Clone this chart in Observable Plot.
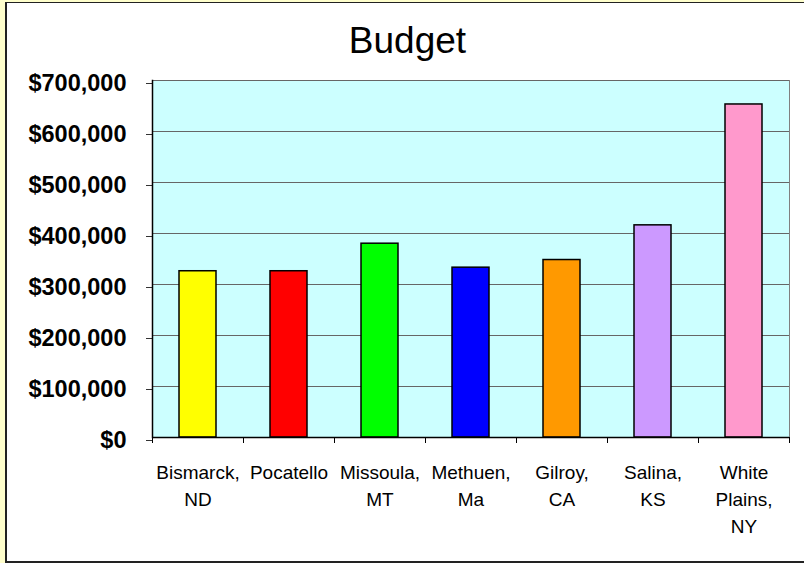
<!DOCTYPE html>
<html>
<head>
<meta charset="utf-8">
<script src="https://cdn.jsdelivr.net/npm/d3@7"></script>
<script src="https://cdn.jsdelivr.net/npm/@observablehq/plot@0.6"></script>
<style>
  html, body { margin: 0; padding: 0; background: #FFFFCC; }
  #wrap { position: relative; width: 804px; height: 563px; overflow: hidden; font-family: "Liberation Sans", Arial, sans-serif; }
  #box { position: absolute; left: 5px; top: 2px; width: 799px; height: 561px; box-sizing: border-box;
         background: #ffffff; border-left: 2px solid #222; border-top: 1px solid #222; border-bottom: 2px solid #222; }
  #title { position: absolute; left: 0; top: 21.7px; width: 815px; text-align: center; font-size: 37px; line-height: 37px; color: #000; }
  #chart { position: absolute; left: 0; top: 60px; }
</style>
</head>
<body>
<div id="wrap">
  <div id="box"></div>
  <div id="title">Budget</div>
  <div id="chart"></div>
</div>
<script>
const cities = ["Bismarck,\nND", "Pocatello", "Missoula,\nMT", "Methuen,\nMa", "Gilroy,\nCA", "Salina,\nKS", "White\nPlains,\nNY"];
const budgets = [326000, 326000, 380000, 333000, 348000, 416000, 653000];
const barColors = ["#FFFF00", "#FF0000", "#00FF00", "#0000FF", "#FF9900", "#CC99FF", "#FF99CC"];
const yTicks = [0, 100000, 200000, 300000, 400000, 500000, 600000, 700000];

const data = cities.map((c, i) => ({city: c, budget: budgets[i]}));

const W = 804, H = 503, ML = 152, MR = 15, MT = 20, MB = 126;
const step = (W - ML - MR) / cities.length;
const fontFam = '"Liberation Sans", Arial, sans-serif';

const chart = Plot.plot({
  width: W, height: H,
  marginLeft: ML, marginRight: MR, marginTop: MT, marginBottom: MB,
  style: {background: "transparent", fontFamily: fontFam, color: "#000"},
  x: {domain: cities, paddingInner: 0.59, paddingOuter: 0.295, label: null},
  y: {domain: [0, 700000], label: null},
  color: {domain: cities, range: barColors},
  marks: [
    Plot.frame({fill: "#CCFFFF", stroke: "#808080"}),
    Plot.ruleY(yTicks, {stroke: "#666666", strokeWidth: 1}),
    Plot.barY(data, {x: "city", y: "budget", fill: "city", stroke: "#000", strokeWidth: 1.5}),
    Plot.axisY({ticks: yTicks, tickSize: 6, tickPadding: 20, tickFormat: d => "$" + d3.format(",")(d),
      fontSize: 23.5, fontWeight: "bold", dy: 3, stroke: "#333", label: null}),
    Plot.axisX({tickSize: 0, tickPadding: 22, fontSize: 19, lineHeight: 1.42, label: null}),
    Plot.axisX({tickSize: 6, text: null, dx: -step / 2, stroke: "#000", label: null}),
    Plot.axisX({tickSize: 6, text: null, dx: step / 2, stroke: "#000", label: null}),
    Plot.ruleY([0], {stroke: "#000", strokeWidth: 1.5}),
    Plot.frame({anchor: "left", stroke: "#000", strokeWidth: 1.5})
  ]
});
document.getElementById("chart").appendChild(chart);
</script>
</body>
</html>
